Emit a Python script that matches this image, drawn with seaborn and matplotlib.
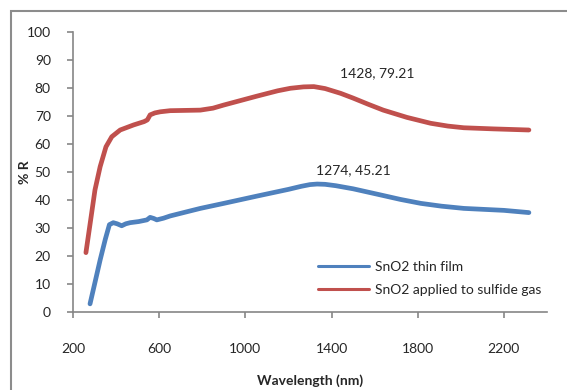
import numpy as np
import pandas as pd
import seaborn as sns
import matplotlib.pyplot as plt
from matplotlib.patches import Rectangle

sns.set_style("white")
plt.rcParams["font.family"] = ["Lato", "DejaVu Sans"]

# ===================== DATA =====================
film_nm = [279, 300, 326, 350, 369, 387, 405, 426, 445, 465, 505, 543, 558,
           575, 589, 620, 651, 744, 791, 900, 1054, 1200, 1260, 1300, 1333,
           1370, 1420, 1500, 1628, 1720, 1814, 1910, 2014, 2200, 2316]
film_r = [2.9, 9.9, 18.6, 26.0, 31.2, 31.9, 31.5, 30.8, 31.5, 31.9, 32.3, 32.9,
          33.8, 33.4, 32.9, 33.5, 34.3, 36.1, 37.0, 38.8, 41.4, 43.8, 44.9,
          45.5, 45.7, 45.6, 45.1, 44.0, 41.8, 40.2, 38.8, 37.8, 37.0, 36.3, 35.5]

gas_nm = [260, 282, 302, 326, 353, 380, 419, 481, 530, 545, 558, 580, 605,
          651, 720, 791, 850, 899, 1054, 1150, 1209, 1270, 1318, 1370, 1442,
          1500, 1570, 1640, 1750, 1860, 1940, 2014, 2150, 2316]
gas_r = [21.2, 32.9, 43.6, 51.9, 59.0, 62.6, 65.0, 66.8, 68.0, 68.6, 70.4,
         71.1, 71.5, 71.9, 72.0, 72.1, 72.8, 73.9, 77.1, 79.0, 79.9, 80.4,
         80.5, 79.8, 78.1, 76.4, 74.2, 72.1, 69.5, 67.4, 66.4, 65.8, 65.4, 65.0]

series_names = ["SnO2 thin film", "SnO2 applied to sulfide gas"]
series_colors = ["#4F81BD", "#C0504D"]
peak_labels = ["1274, 45.21", "1428, 79.21"]

x_ticks = [200, 600, 1000, 1400, 1800, 2200]
y_ticks = list(range(0, 101, 10))

df = pd.concat([
    pd.DataFrame({"nm": film_nm, "R": film_r, "series": series_names[0]}),
    pd.DataFrame({"nm": gas_nm, "R": gas_r, "series": series_names[1]}),
], ignore_index=True)

# ===================== PLOT =====================
fig = plt.figure(figsize=(5.67, 3.90), dpi=100)
ax = fig.add_axes([73 / 567, 78 / 390, 474 / 567, 280 / 390])

sns.lineplot(
    data=df, x="nm", y="R", hue="series", hue_order=series_names,
    palette=series_colors, linewidth=3.4, sort=False, ax=ax,
    solid_capstyle="round", solid_joinstyle="round"
)

ax.set_xlim(200, 2400)
ax.set_ylim(0, 100)
ax.set_xticks(x_ticks)
ax.set_yticks(y_ticks)

for s in ["top", "right"]:
    ax.spines[s].set_visible(False)
for s in ["left", "bottom"]:
    ax.spines[s].set_color("#868686")
    ax.spines[s].set_linewidth(1.2)

ax.tick_params(axis="y", direction="out", length=4, width=1.2,
               color="#868686", pad=12, labelsize=10, left=True)
ax.tick_params(axis="x", direction="out", length=4, width=1.2,
               color="#868686", pad=18, labelsize=10, bottom=True)

ax.set_xlabel("Wavelength (nm)", fontsize=10, fontweight="bold", va="center")
ax.set_ylabel("% R", fontsize=10, fontweight="bold", va="center")
ax.xaxis.set_label_coords(0.5, -0.246)
ax.yaxis.set_label_coords(-0.101, 0.5)

# peak labels
ax.text(1614, 85.4, peak_labels[1], ha="center", va="center", fontsize=10)
ax.text(1502, 50.7, peak_labels[0], ha="center", va="center", fontsize=10)

leg = ax.legend(
    loc="center left", bbox_to_anchor=(0.49, 0.12), frameon=False,
    fontsize=10, handlelength=3.7, handletextpad=0.4, labelspacing=0.75
)
for line in leg.get_lines():
    line.set_linewidth(2.2)

# outer chart frame (clipped at right/bottom like the reference)
frame = Rectangle((11 / 567, -0.1), 1.2, 1.1 - 11 / 390,
                  transform=fig.transFigure, fill=False,
                  edgecolor="#8c8c8c", linewidth=1.5, zorder=10)
fig.add_artist(frame)

fig.savefig("out.png", dpi=100)
